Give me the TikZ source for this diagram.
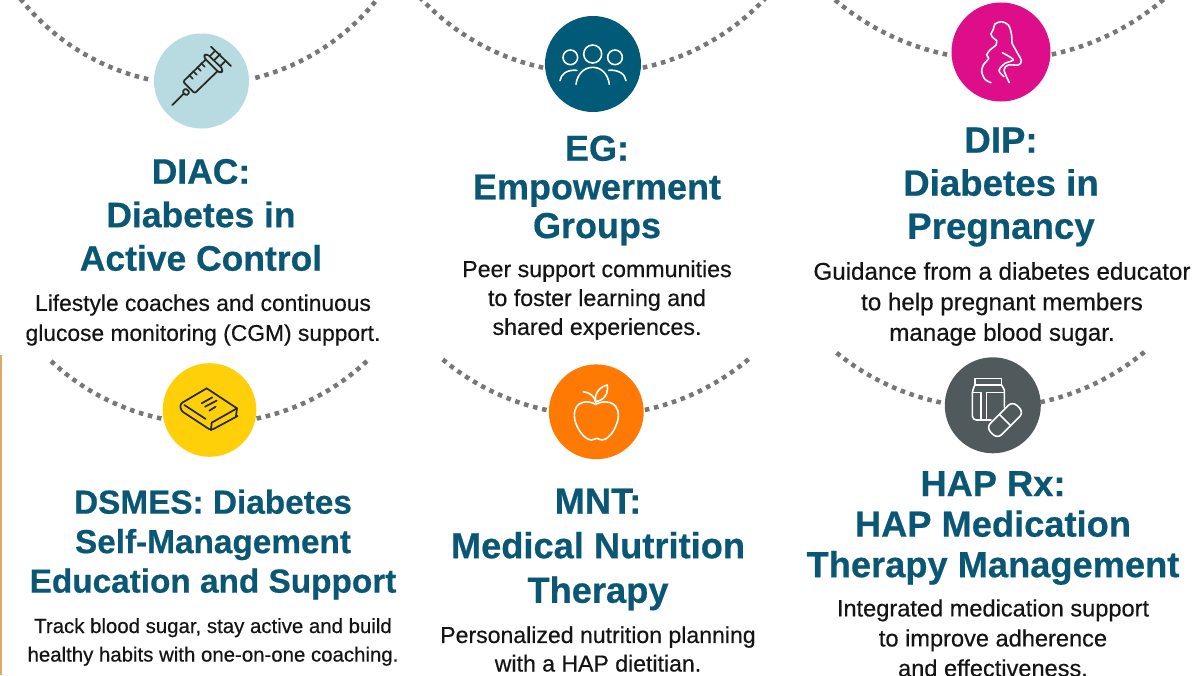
\documentclass[tikz,border=0pt]{standalone}
\usepackage{fontspec}
\setmainfont{Liberation Sans}
\definecolor{headc}{HTML}{0A5675}
\definecolor{bodyc}{HTML}{141414}
\definecolor{dotc}{HTML}{777777}
\definecolor{cdiac}{HTML}{B7DBE0}
\definecolor{ceg}{HTML}{005A78}
\definecolor{cdip}{HTML}{DE0E8A}
\definecolor{cdsmes}{HTML}{FFCF0A}
\definecolor{cmnt}{HTML}{FF7A05}
\definecolor{chap}{HTML}{505A5C}
\definecolor{ink}{HTML}{2A2A22}
\definecolor{strip}{HTML}{E0A860}
\tikzset{
 dots/.style={draw=dotc,line width=3.4pt,dash pattern=on 3.4pt off 3.6pt},
 disc/.style={circle,inner sep=0pt,draw=none},
 head/.style n args={2}{align=center,text=headc,inner sep=0pt,font=\fontsize{#1}{#2}\selectfont\bfseries\addfontfeature{FakeBold=0.5}},
 para/.style n args={2}{align=center,text=bodyc,inner sep=0pt,font=\fontsize{#1}{#2}\selectfont\addfontfeature{FakeBold=0.45}},
 whiteicon/.style={draw=white,line width=1.2pt,line cap=round,line join=round},
 darkicon/.style={draw=ink,line width=1.3pt,line cap=round,line join=round},
 zoomed/.style={shift={#1},x=.25pt,y=-.25pt}
}
\begin{document}
\begin{tikzpicture}[x=.75pt,y=-.75pt]
\useasboundingbox (0,0) rectangle (1200,675);
\clip (0,0) rectangle (1200,675);
\fill[white] (0,0) rectangle (1200,675);
\fill[strip] (0,355) rectangle (2,675);
% arcs
\draw[dots] (199,-143) ++(102.9:228) arc[start angle=102.9,end angle=143,radius=228];
\draw[dots] (199,-143) ++(75.7:228) arc[start angle=75.7,end angle=37,radius=228];
\draw[dots] (593,-163) ++(102.2:236) arc[start angle=102.2,end angle=140,radius=236];
\draw[dots] (593,-163) ++(77.8:236) arc[start angle=77.8,end angle=40,radius=236];
\draw[dots] (999,-194) ++(101.8:254) arc[start angle=101.8,end angle=135,radius=254];
\draw[dots] (999,-194) ++(78:254) arc[start angle=78,end angle=45,radius=254];
\draw[dots] (209,192.5) ++(101.9:231) arc[start angle=101.9,end angle=133.5,radius=231];
\draw[dots] (209,192.5) ++(78.1:231) arc[start angle=78.1,end angle=46.5,radius=231];
\draw[dots] (595.5,177.6) ++(101.9:237.5) arc[start angle=101.9,end angle=130.8,radius=237.5];
\draw[dots] (595.5,177.6) ++(78:237.5) arc[start angle=78,end angle=49.2,radius=237.5];
\draw[dots] (990,165) ++(101.7:242.5) arc[start angle=101.7,end angle=130.3,radius=242.5];
\draw[dots] (990,165) ++(78:242.5) arc[start angle=78,end angle=49.7,radius=242.5];
% discs
\node[disc,fill=cdiac,minimum size=71.25pt] (diac) at (201.5,81) {};
\node[disc,fill=ceg,minimum size=72pt] (eg) at (593,64) {};
\node[disc,fill=cdip,minimum size=74.25pt] (dip) at (1001,52) {};
\node[disc,fill=cdsmes,minimum size=70.2pt] (dsmes) at (209.5,410) {};
\node[disc,fill=cmnt,minimum size=71.1pt] (mnt) at (596.3,411.8) {};
\node[disc,fill=chap,minimum size=72pt] (hap) at (992.8,405.3) {};
% syringe
\begin{scope}[zoomed={(165,40)},darkicon]
\draw (22,195)--(55,162);
\draw[rounded corners=1pt] (52,155)--(62,145)--(74,157)--(64,167)--cycle;
\draw[rounded corners=1.5pt] (123,58)--(54,125)--(89,160)--(158,93);
\draw[rounded corners=2.5pt] (114,50)--(125,40)--(176,90)--(165,101)--cycle;
\draw (138,20)--(198,78);
\draw (150,33)--(136,47) (181,63)--(167,77) (148,60)--(166,42);
\draw (73,106)--(83,116) (85,94)--(95,104) (97,82)--(107,92) (109,70)--(119,80);
\end{scope}
% group
\begin{scope}[zoomed={(400,0)},whiteicon]
\draw (578,162) circle[radius=27];
\draw (511,172) circle[radius=22];
\draw (645,172) circle[radius=22];
\draw (528,253) .. controls (532,222) and (552,202) .. (578,202) .. controls (604,202) and (624,222) .. (628,253);
\draw (480,242) .. controls (482,222) and (502,208) .. (531,211);
\draw (678,242) .. controls (676,222) and (654,208) .. (626,211);
\end{scope}
% pregnant
\begin{scope}[zoomed={(800,0)},whiteicon]
\draw plot[smooth] coordinates {(590,122) (578,112) (573,102) (580,88) (585,72) (605,65) (625,75) (634,100) (636,130)};
\draw plot[smooth] coordinates {(590,122) (588,135) (570,150) (560,165) (566,175) (550,195) (545,215) (555,238) (573,248)};
\draw plot[smooth] coordinates {(636,130) (650,155) (664,182) (655,195) (625,195) (612,210) (628,248)};
\draw plot[smooth] coordinates {(607,158) (625,168) (640,180) (615,190) (600,205) (598,215) (612,230)};
\end{scope}
% book
\begin{scope}[zoomed={(175,380)},darkicon]
\draw[rounded corners=2pt] (95,25)--(15,72)--(18,92)--(108,151)--(188,108);
\draw (95,25)--(186,85)--(110,128);
\draw (28,75)--(92,117);
\draw (110,128)--(108,151);
\draw (186,85)--(183,108);
\draw (80,70)--(112,52) (90,80)--(125,62) (103,92)--(122,80);
\end{scope}
% apple
\begin{scope}[zoomed={(420,345)},whiteicon]
\draw (527,178) .. controls (505,165) and (463,165) .. (463,212) .. controls (463,240) and (490,285) .. (515,285) .. controls (522,285) and (525,280) .. (530,280) .. controls (535,280) and (540,285) .. (545,285) .. controls (570,285) and (595,240) .. (595,212) .. controls (595,165) and (550,165) .. (527,178);
\draw (490,140) .. controls (510,142) and (525,155) .. (527,172);
\draw (527,170) .. controls (522,145) and (540,125) .. (562,120) .. controls (565,145) and (555,165) .. (527,170);
\end{scope}
% jar and pill
\begin{scope}[zoomed={(965,370)},whiteicon]
\draw (30,25) rectangle (110,45);
\draw[rounded corners=3pt] (30,45)--(22,60)--(22,150)--(78,150);
\draw (110,45)--(118,60)--(118,112);
\draw (22,68)--(48,68)--(48,147);
\draw (118,68)--(65,68)--(65,148);
\draw[fill=chap,rounded corners=4.5pt,rotate around={45:(120,150)}] (64,126) rectangle (176,174);
\draw[rotate around={45:(120,150)}] (120,126)--(120,174);
\end{scope}
% text
\node[head={26.6}{32.6}] (t1) at (201,215) {DIAC:\\Diabetes in\\Active Control};
\node[para={17.1}{22.5}] (b1) at (203,320) {Lifestyle coaches and continuous\\glucose monitoring (CGM) support.};
\node[head={27}{29}] (t2) at (597,190.5) {EG:\\Empowerment\\Groups};
\node[para={17.4}{21.7}] (b2) at (597,300) {Peer support communities\\to foster learning and\\shared experiences.};
\node[head={27.5}{32.3}] (t3) at (1001,187) {DIP:\\Diabetes in\\Pregnancy};
\node[para={18.1}{22.9}] (b3) at (1002,304) {Guidance from a diabetes educator\\to help pregnant members\\manage blood sugar.};
\node[head={25}{29.6}] (t4) at (213,544.5) {DSMES: Diabetes\\Self-Management\\Education and Support};
\node[para={15.3}{21.4}] (b4) at (213,642) {Track blood sugar, stay active and build\\healthy habits with one-on-one coaching.};
\node[head={27.2}{33.4}] (t5) at (598,549.5) {MNT:\\Medical Nutrition\\Therapy};
\node[para={17.3}{21.4}] (b5) at (598,649) {Personalized nutrition planning\\with a HAP dietitian.};
\node[head={27.2}{30.4}] (t6) at (993,528) {HAP Rx:\\HAP Medication\\Therapy Management};
\node[para={17.7}{22.5}] (b6) at (993,638) {Integrated medication support\\to improve adherence\\and effectiveness.};
\end{tikzpicture}
\end{document}
